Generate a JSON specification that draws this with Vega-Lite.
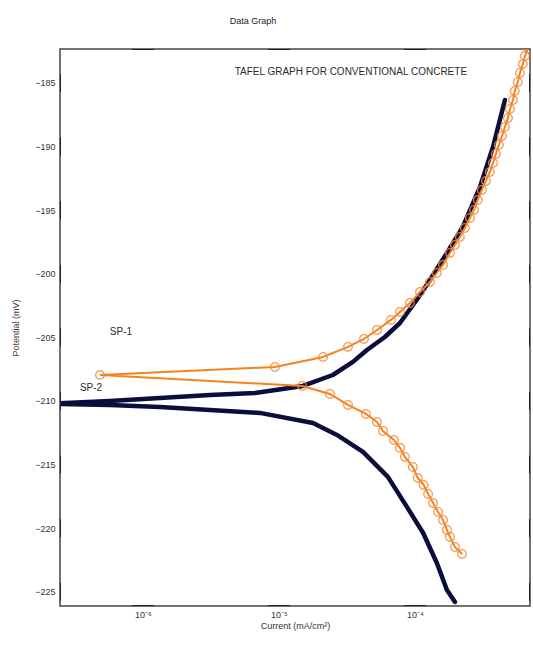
{
  "$schema": "https://vega.github.io/schema/vega-lite/v6.json",
  "width": 470,
  "height": 557,
  "autosize": "none",
  "padding": {"left": 60, "top": 49, "right": 3, "bottom": 42},
  "background": "white",
  "title": {"text": "Data Graph", "fontSize": 9, "font": "Liberation Sans", "fontWeight": "normal", "color": "#222", "anchor": "middle", "dx": -42, "offset": 23},
  "config": {"view": {"stroke": "#444", "strokeWidth": 1.5}, "font": "Liberation Sans"},
  "datasets": {
    "navy": [
      {"i": 1, "I": 1.97e-4, "E": -225.8},
      {"i": 2, "I": 1.72e-4, "E": -224.86},
      {"i": 3, "I": 1.45e-4, "E": -222.74},
      {"i": 4, "I": 1.15e-4, "E": -220.38},
      {"i": 5, "I": 8.73e-5, "E": -218.33},
      {"i": 6, "I": 6.33e-5, "E": -215.97},
      {"i": 7, "I": 4.15e-5, "E": -214.01},
      {"i": 8, "I": 2.67e-5, "E": -212.67},
      {"i": 9, "I": 1.78e-5, "E": -211.73},
      {"i": 10, "I": 7.24e-6, "E": -210.94},
      {"i": 11, "I": 3.11e-6, "E": -210.71},
      {"i": 12, "I": 1.33e-6, "E": -210.47},
      {"i": 13, "I": 5.71e-7, "E": -210.31},
      {"i": 14, "I": 2.07e-7, "E": -210.22},
      {"i": 15, "I": 5.71e-7, "E": -210.0},
      {"i": 16, "I": 1.33e-6, "E": -209.76},
      {"i": 17, "I": 3.11e-6, "E": -209.53},
      {"i": 18, "I": 6.67e-6, "E": -209.37},
      {"i": 19, "I": 1.5e-5, "E": -208.82},
      {"i": 20, "I": 2.49e-5, "E": -207.96},
      {"i": 21, "I": 3.5e-5, "E": -206.93},
      {"i": 22, "I": 4.44e-5, "E": -205.99},
      {"i": 23, "I": 6.01e-5, "E": -204.97},
      {"i": 24, "I": 7.76e-5, "E": -203.87},
      {"i": 25, "I": 1.03e-4, "E": -202.06},
      {"i": 26, "I": 1.29e-4, "E": -200.49},
      {"i": 27, "I": 1.72e-4, "E": -198.36},
      {"i": 28, "I": 2.25e-4, "E": -196.32},
      {"i": 29, "I": 3.01e-4, "E": -193.18},
      {"i": 30, "I": 3.75e-4, "E": -190.03},
      {"i": 31, "I": 4.59e-4, "E": -186.34}
    ],
    "orange": [
      {"i": 1, "I": 6.78e-4, "E": -182.25},
      {"i": 2, "I": 6.44e-4, "E": -182.88},
      {"i": 3, "I": 6.22e-4, "E": -183.51},
      {"i": 4, "I": 5.92e-4, "E": -184.21},
      {"i": 5, "I": 5.71e-4, "E": -184.92},
      {"i": 6, "I": 5.43e-4, "E": -185.63},
      {"i": 7, "I": 5.26e-4, "E": -186.34},
      {"i": 8, "I": 5.0e-4, "E": -187.04},
      {"i": 9, "I": 4.83e-4, "E": -187.75},
      {"i": 10, "I": 4.59e-4, "E": -188.46},
      {"i": 11, "I": 4.37e-4, "E": -189.17},
      {"i": 12, "I": 4.15e-4, "E": -189.87},
      {"i": 13, "I": 3.94e-4, "E": -190.58},
      {"i": 14, "I": 3.75e-4, "E": -191.29},
      {"i": 15, "I": 3.56e-4, "E": -192.0},
      {"i": 16, "I": 3.33e-4, "E": -192.7},
      {"i": 17, "I": 3.11e-4, "E": -193.41},
      {"i": 18, "I": 2.9e-4, "E": -194.2},
      {"i": 19, "I": 2.72e-4, "E": -194.98},
      {"i": 20, "I": 2.54e-4, "E": -195.61},
      {"i": 21, "I": 2.33e-4, "E": -196.4},
      {"i": 22, "I": 2.14e-4, "E": -197.11},
      {"i": 23, "I": 1.97e-4, "E": -197.74},
      {"i": 24, "I": 1.81e-4, "E": -198.36},
      {"i": 25, "I": 1.61e-4, "E": -199.31},
      {"i": 26, "I": 1.45e-4, "E": -199.94},
      {"i": 27, "I": 1.29e-4, "E": -200.64},
      {"i": 28, "I": 1.09e-4, "E": -201.43},
      {"i": 29, "I": 9.19e-5, "E": -202.3},
      {"i": 30, "I": 7.76e-5, "E": -203.0},
      {"i": 31, "I": 6.67e-5, "E": -203.63},
      {"i": 32, "I": 5.26e-5, "E": -204.42},
      {"i": 33, "I": 4.22e-5, "E": -205.13},
      {"i": 34, "I": 3.22e-5, "E": -205.75},
      {"i": 35, "I": 2.11e-5, "E": -206.54},
      {"i": 36, "I": 9.35e-6, "E": -207.33},
      {"i": 37, "I": 4.83e-7, "E": -207.96},
      {"i": 38, "I": 1.48e-5, "E": -208.82},
      {"i": 39, "I": 2.37e-5, "E": -209.45},
      {"i": 40, "I": 3.22e-5, "E": -210.31},
      {"i": 41, "I": 4.36e-5, "E": -211.02},
      {"i": 42, "I": 5.26e-5, "E": -211.65},
      {"i": 43, "I": 5.82e-5, "E": -212.36},
      {"i": 44, "I": 7.01e-5, "E": -213.07},
      {"i": 45, "I": 7.76e-5, "E": -213.69},
      {"i": 46, "I": 8.44e-5, "E": -214.4},
      {"i": 47, "I": 9.66e-5, "E": -215.19},
      {"i": 48, "I": 1.05e-4, "E": -216.05},
      {"i": 49, "I": 1.16e-4, "E": -216.6},
      {"i": 50, "I": 1.25e-4, "E": -217.31},
      {"i": 51, "I": 1.36e-4, "E": -218.02},
      {"i": 52, "I": 1.48e-4, "E": -218.73},
      {"i": 53, "I": 1.61e-4, "E": -219.36},
      {"i": 54, "I": 1.72e-4, "E": -220.14},
      {"i": 55, "I": 1.81e-4, "E": -220.69},
      {"i": 56, "I": 1.97e-4, "E": -221.48},
      {"i": 57, "I": 2.22e-4, "E": -222.03}
    ],
    "notes": [
      {"I": 3.38e-5, "E": -184.14, "label": "TAFEL GRAPH FOR CONVENTIONAL CONCRETE"},
      {"I": 6.89e-7, "E": -204.58, "label": "SP-1"},
      {"I": 4.15e-7, "E": -208.98, "label": "SP-2"}
    ],
    "yticks": [{"E": -225}, {"E": -220}, {"E": -215}, {"E": -210}, {"E": -205}, {"E": -200}, {"E": -195}, {"E": -190}, {"E": -185}],
    "xticks": [{"I": 1e-6}, {"I": 1e-5}, {"I": 1e-4}]
  },
  "layer": [
    {
      "data": {"name": "navy"},
      "mark": {"type": "line", "color": "#0b0e3d", "strokeWidth": 4.5, "strokeCap": "round", "strokeJoin": "round", "clip": true},
      "encoding": {
        "x": {"field": "I", "type": "quantitative", "scale": {"type": "log", "domain": [2.455e-7, 7.02e-4], "nice": false},
          "axis": {"orient": "bottom", "values": [1e-6, 1e-5, 1e-4], "labelExpr": "'10' + (datum.value < 5e-6 ? '⁻⁶' : datum.value < 5e-5 ? '⁻⁵' : '⁻⁴')",
            "title": "Current (mA/cm²)", "titleFontSize": 9, "titleFontWeight": "normal", "titleColor": "#333", "titlePadding": 2,
            "labelFontSize": 9, "labelColor": "#333", "ticks": false, "labelPadding": 4, "domain": false, "grid": false}},
        "y": {"field": "E", "type": "quantitative", "scale": {"domain": [-226.12, -182.33], "nice": false, "zero": false},
          "axis": {"orient": "left", "values": [-225, -220, -215, -210, -205, -200, -195, -190, -185],
            "title": "Potential (mV)", "titleFontSize": 9, "titleFontWeight": "normal", "titleColor": "#4a3a3a", "titlePadding": 14,
            "labelFontSize": 9, "labelColor": "#333", "ticks": false, "labelPadding": 5, "domain": false, "grid": false}},
        "order": {"field": "i", "type": "quantitative"}
      }
    },
    {
      "data": {"name": "yticks"},
      "mark": {"type": "tick", "orient": "vertical", "color": "#222", "thickness": 2, "size": 18, "clip": true, "opacity": 1},
      "encoding": {
        "y": {"field": "E", "type": "quantitative"},
        "x": {"datum": 2.455e-7, "type": "quantitative"}
      }
    },
    {
      "data": {"name": "yticks"},
      "mark": {"type": "tick", "orient": "vertical", "color": "#222", "thickness": 2, "size": 18, "clip": true, "opacity": 1},
      "encoding": {
        "y": {"field": "E", "type": "quantitative"},
        "x": {"datum": 7.02e-4, "type": "quantitative"}
      }
    },
    {
      "data": {"name": "xticks"},
      "mark": {"type": "tick", "orient": "horizontal", "color": "#222", "thickness": 2, "size": 22, "clip": true, "opacity": 1},
      "encoding": {
        "x": {"field": "I", "type": "quantitative"},
        "y": {"datum": -226.12, "type": "quantitative"}
      }
    },
    {
      "data": {"name": "xticks"},
      "mark": {"type": "tick", "orient": "horizontal", "color": "#222", "thickness": 2, "size": 22, "clip": true, "opacity": 1},
      "encoding": {
        "x": {"field": "I", "type": "quantitative"},
        "y": {"datum": -182.33, "type": "quantitative"}
      }
    },
    {
      "data": {"name": "orange"},
      "mark": {"type": "line", "color": "#f7821b", "strokeWidth": 2, "clip": true},
      "encoding": {
        "x": {"field": "I", "type": "quantitative"},
        "y": {"field": "E", "type": "quantitative"},
        "order": {"field": "i", "type": "quantitative"}
      }
    },
    {
      "data": {"name": "orange"},
      "mark": {"type": "point", "shape": "circle", "filled": false, "color": "#f68a3a", "size": 75, "strokeWidth": 1.3, "opacity": 0.85, "clip": true},
      "encoding": {
        "x": {"field": "I", "type": "quantitative"},
        "y": {"field": "E", "type": "quantitative"}
      }
    },
    {
      "data": {"name": "notes"},
      "mark": {"type": "text", "fontSize": 10, "color": "#2a2a2a", "font": "Liberation Sans", "align": "center", "baseline": "middle"},
      "encoding": {
        "x": {"field": "I", "type": "quantitative"},
        "y": {"field": "E", "type": "quantitative"},
        "text": {"field": "label"}
      }
    }
  ]
}
